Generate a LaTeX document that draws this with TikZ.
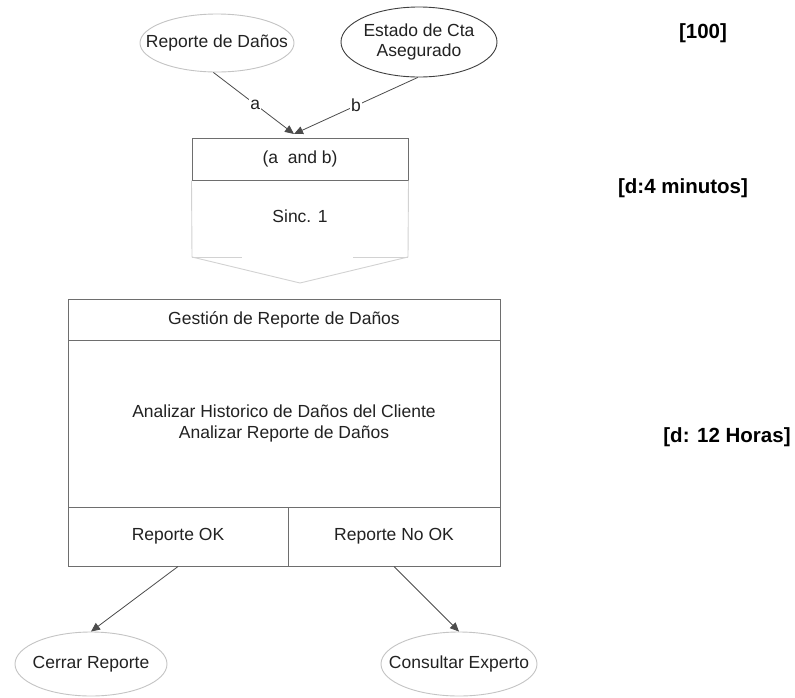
\documentclass[tikz,border=0pt]{standalone}
\usepackage{fontspec}
\setmainfont{Liberation Sans}
\usetikzlibrary{shapes.geometric,arrows.meta}
\definecolor{txt}{HTML}{222222}
\definecolor{lightline}{HTML}{C4C4C4}
\definecolor{sincline}{HTML}{D2D2D2}
\definecolor{boxline}{HTML}{6E6E6E}
\tikzset{
  lbl/.style={font=\fontsize{17.5}{21}\selectfont, text=txt},
  bigl/.style={font=\bfseries\fontsize{20.5}{24}\selectfont, text=black},
  lightell/.style={ellipse, draw=lightline, line width=0.9pt, inner xsep=-30pt, inner ysep=0pt, lbl},
  darkell/.style={ellipse, draw=black!75, line width=0.9pt, inner xsep=-30pt, inner ysep=0pt, lbl, align=center},
  cell/.style={rectangle, draw=boxline, line width=1pt, inner sep=0pt, lbl, align=center},
  conn/.style={draw=black!70, line width=0.8pt, -{Triangle[length=9pt,width=8pt]}},
  edgelbl/.style={fill=white, inner sep=1pt, lbl}
}
\begin{document}
\begin{tikzpicture}[x=1pt,y=-1pt]
\useasboundingbox[fill=white] (0,0) rectangle (795,697);

% top ellipses
\node[lightell, minimum width=154pt, minimum height=58pt] (rd) at (217,43) {Reporte de Daños};
\node[darkell, minimum width=156pt, minimum height=70pt] (ec) at (419,42) {Estado de Cta\\[-1pt]Asegurado};

% sync box
\node[cell, minimum width=216pt, minimum height=42pt] (ab) at (300,159) {(a\ \ and b)};
\coordinate (m) at (294,134);
\coordinate (sl) at (192,257);
\coordinate (sr) at (408,257);
\coordinate (stip) at (300,283);
\draw[sincline, line width=0.9pt] (ab.south west) -- (sl) -- (stip) -- (sr) -- (ab.south east);
\draw[sincline, line width=0.9pt] (sl) -- (242,257);
\draw[sincline, line width=0.9pt] (353,257) -- (sr);
\node[lbl] (sinc) at (300,216) {Sinc. 1};

\draw[conn] (rd.-97) -- node[edgelbl, pos=0.52] {a} (m);
\draw[conn] (ec.-92) -- node[edgelbl, pos=0.5] {b} (m);

% main activity box
\node[cell, minimum width=432pt, minimum height=41pt] (hdr) at (284,319.5) {Gestión de Reporte de Daños};
\node[cell, minimum width=432pt, minimum height=167pt] (body) at (284,423.5)
  {Analizar Historico de Daños del Cliente\\[-0.5pt]Analizar Reporte de Daños};
\node[cell, minimum width=220pt, minimum height=59pt] (ok) at (178,536.5) {Reporte OK};
\node[cell, minimum width=212pt, minimum height=59pt] (nok) at (394,536.5) {Reporte No OK};

% bottom ellipses
\node[lightell, minimum width=152pt, minimum height=64pt] (cr) at (91,664) {Cerrar Reporte};
\node[lightell, minimum width=156pt, minimum height=64pt] (ce) at (459,664) {Consultar Experto};

\draw[conn] (ok.south) -- (cr.north);
\draw[conn] (nok.south) -- (ce.north);

% annotations
\node[bigl] (n100) at (703,33) {[100]};
\node[bigl] (d4) at (683,188) {[d:4 minutos]};
\node[bigl] (d12) at (727,437) {[d: 12 Horas]};
\end{tikzpicture}
\end{document}
